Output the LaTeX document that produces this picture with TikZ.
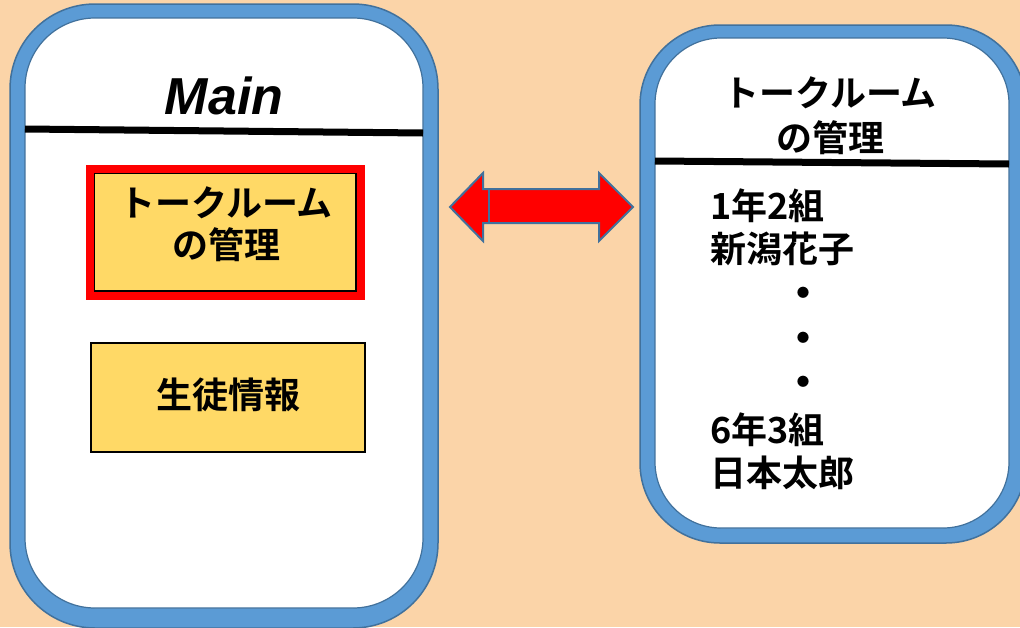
\documentclass[tikz,border=0pt]{standalone}
\usepackage{fontspec}
\newfontfamily\cjk{Noto Sans CJK JP}[BoldFont={Noto Sans CJK JP Bold}]
\newfontfamily\latinbi{Liberation Sans}
\definecolor{bgpeach}{HTML}{FBD4A8}
\definecolor{ringblue}{HTML}{5B9BD5}
\definecolor{ringdark}{HTML}{41719C}
\definecolor{boxyellow}{HTML}{FFD966}
\tikzset{
  ring/.style={fill=ringblue, draw=ringdark, line width=1.5pt},
  innerwhite/.style={fill=white, draw=ringdark, line width=1.2pt},
  headline/.style={line width=7pt, black},
  jtext/.style={font=\cjk\bfseries\fontsize{36}{45}\selectfont, inner sep=0pt},
  dottext/.style={font=\cjk\bfseries\fontsize{44}{45}\selectfont, inner sep=0pt},
  ltext/.style={jtext, anchor=west},
}
\begin{document}
\begin{tikzpicture}[x=1pt,y=-1pt]
\useasboundingbox (0,0) rectangle (1020,627);
\fill[bgpeach] (0,0) rectangle (1020,627);
% left panel
\draw[ring, rounded corners=85pt] (10,4) rectangle (438,628);
\draw[innerwhite, rounded corners=70pt] (25,18) rectangle (423,608);
\coordinate (lh1) at (25,129);
\coordinate (lh2) at (423,133);
\draw[headline] (lh1) -- (lh2);
\node[inner sep=0pt, font=\latinbi\bfseries\itshape\fontsize{52}{60}\selectfont] (main) at (224,96) {Main};
% box 1
\draw[fill=boxyellow, draw=black, line width=1.5pt] (94,173) rectangle (356,291);
\draw[red, line width=8pt] (90,169) rectangle (361,296);
\node[jtext] (b1a) at (226,203) {トークルーム};
\node[jtext] (b1b) at (226,245) {の管理};
% box 2
\draw[fill=boxyellow, draw=black, line width=2pt] (91,343) rectangle (365,452);
\node[jtext] (b2) at (228,395) {生徒情報};
% right panel
\draw[ring, rounded corners=80pt] (640,25) rectangle (1026,543);
\draw[innerwhite, rounded corners=66pt] (655,38) rectangle (1009,528);
\coordinate (rh1) at (655,161);
\coordinate (rh2) at (1009,164);
\draw[headline] (rh1) -- (rh2);
\node[jtext] (ra) at (830,93) {トークルーム};
\node[jtext] (rb) at (830,138) {の管理};
\node[ltext] (l1) at (710,206) {1年2組};
\node[ltext] (l2) at (710,249) {新潟花子};
\node[dottext] (d1) at (803,298) {・};
\node[dottext] (d2) at (803,343) {・};
\node[dottext] (d3) at (803,387) {・};
\node[ltext] (l3) at (710,430) {6年3組};
\node[ltext] (l4) at (710,473) {日本太郎};
% double arrow
\draw[fill=red, draw=ringdark, line width=2pt, line join=miter]
  (450,207) -- (483,173) -- (483,189) -- (599,189) -- (599,173) -- (633,207)
  -- (599,241) -- (599,223) -- (483,223) -- (483,241) -- cycle;
\draw[ringdark, line width=2pt] (489,189) -- (489,223);
\end{tikzpicture}
\end{document}
